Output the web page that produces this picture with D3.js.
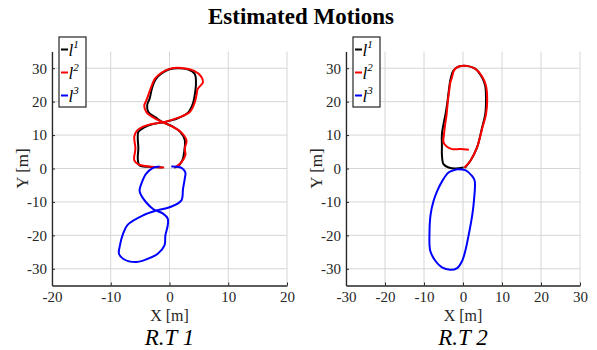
<!DOCTYPE html>
<html>
<head>
<meta charset="utf-8">
<script src="https://cdn.jsdelivr.net/npm/d3@7"></script>
<style>
  body { margin: 0; background: #fff; }
  svg text { font-family: "Liberation Serif", "Times New Roman", serif; }
</style>
</head>
<body>
<div id="vis"></div>
<script>
// trajectories, [x, y] in metres
var rt1L1 = [[-1.2,0.3],[-3.5,0.5],[-5.1,0.9],[-5.4,3],[-5.3,6],[-5.4,9],[-5.3,11],[-4.3,12.3],[-2.8,13.3],[-1.1,13.8],[1.4,15],[3.2,16.8],[4,19.5],[4.3,22],[4.5,25.3],[4.3,28.3],[3.2,29.6],[1.5,30],[0,29.7],[-1.3,28.5],[-2.3,26.8],[-2.9,24.5],[-3.4,20.8],[-3.8,19],[-3.6,16.9],[-2.3,15.2],[-1.1,13.8],[0.5,12.6],[1.9,10.8],[2.6,8.5],[2.5,5],[2.2,2.5],[1.4,0.6],[0.8,0.3]];
var rt1L2 = [[-0.9,0.3],[-3,0.5],[-5.3,1.2],[-6,2.5],[-5.8,6],[-6,9.5],[-5.6,11.2],[-4.5,12.5],[-3,13.3],[-1.1,13.8],[1.5,15.2],[3.5,17],[4.3,19.8],[4.6,22],[4.8,23.8],[5.7,25.8],[5.4,27.5],[4.2,29.2],[2,30.1],[0,29.8],[-1.5,28.5],[-2.5,26.8],[-3.2,24],[-3.9,20.5],[-4.3,18.8],[-3.9,16.8],[-2.5,15],[-1.1,13.8],[0.5,12.5],[2,10.8],[2.9,8.3],[2.6,6],[2.7,4],[2,1.8],[0.9,0.3]];
var rt1L3 = [[-1.7,0.6],[-2.8,0.2],[-4,-1.6],[-4.8,-4.6],[-5.1,-6.6],[-4.8,-8.1],[-4,-10.1],[-2.8,-12.1],[-2,-12.8],[-1.1,-13.5],[-0.3,-15],[-0.3,-17],[-0.7,-20],[-0.85,-23],[-2,-25.5],[-3.7,-27],[-5.7,-28],[-7.9,-27],[-8.6,-25.5],[-8.5,-23.5],[-7.9,-19.5],[-7.1,-16.8],[-4.5,-14],[-2.3,-12.6],[0,-11.6],[2,-9.6],[2.3,-6.1],[2.6,-3],[2.7,-1.2],[2.2,0],[1.4,0.5],[0.3,0.6]];

var rt2L1 = [[0.15,0.3],[-2,0],[-3.7,0.3],[-5,1.3],[-5.4,4],[-5.4,6.8],[-5.4,10.3],[-4.5,16.2],[-4.1,19],[-3.6,23.7],[-3.2,26.7],[-2.5,29.2],[-1.1,30.5],[1,30.7],[3.2,29.8],[4.9,27.2],[5.7,24.7],[5.9,20.7],[5.7,16.2],[4.9,12.3],[3.6,6.3],[1.9,2.3],[0.5,0.2]];
var rt2L2 = [[1.5,5.6],[-0.7,5.8],[-2.8,5.8],[-4.1,6.5],[-5,7.8],[-4.9,10],[-4.6,13],[-4.2,16.2],[-3.9,20],[-3.5,23.7],[-3.3,25.5],[-2.9,27],[-2.2,29.6],[-1.1,30.5],[1,30.7],[3.2,29.8],[4.9,27.5],[5.9,24.7],[6.2,20.7],[5.9,16.2],[5,12.3],[3.6,6.3],[1.9,2.3],[0.3,0.2]];
var rt2L3 = [[-1.5,-0.2],[0.6,-0.5],[2.3,-2.2],[3,-3.7],[2.8,-9.7],[2.4,-13.7],[1.5,-19.6],[0.6,-24.6],[-0.2,-27.6],[-1.5,-29.8],[-3.3,-30.3],[-5.4,-29.6],[-7.1,-27.6],[-8.4,-24.6],[-8.6,-19.6],[-8.3,-13.7],[-7.5,-9.5],[-6.6,-6.7],[-5.3,-3.7],[-3.7,-1.2],[-1.5,-0.2]];

var seriesNames = ["1", "2", "3"];
var seriesColors = ["#000000", "#ff0000", "#0000ff"];
var yTicks = [-30, -20, -10, 0, 10, 20, 30];
var xTicks1 = [-20, -10, 0, 10, 20];
var xTicks2 = [-30, -20, -10, 0, 10, 20, 30];

var serif = '"Liberation Serif", "Times New Roman", serif';
var width = 597, height = 350;
var svg = d3.select('#vis').append('svg')
  .attr('width', width)
  .attr('height', height);

svg.append('text')
  .attr('x', 301).attr('y', 24)
  .attr('text-anchor', 'middle')
  .style('font-family', serif)
  .style('font-size', '23px')
  .style('font-weight', 'bold')
  .text('Estimated Motions');

function drawPanel(opt) {
  var x = d3.scaleLinear().domain(opt.xDomain).range([opt.left, opt.right]);
  var y = d3.scaleLinear().domain([-35, 35]).range([285.5, 51.5]);
  var g = svg.append('g');

  // grid
  g.selectAll('.gx').data(opt.xTicks).enter().append('line')
    .attr('x1', function(d) { return x(d); }).attr('x2', function(d) { return x(d); })
    .attr('y1', y(35)).attr('y2', y(-35))
    .attr('stroke', '#d6d6d6').attr('stroke-width', 1);
  g.selectAll('.gy').data(yTicks).enter().append('line')
    .attr('x1', x(opt.xDomain[0])).attr('x2', x(opt.xDomain[1]))
    .attr('y1', function(d) { return y(d); }).attr('y2', function(d) { return y(d); })
    .attr('stroke', '#d6d6d6').attr('stroke-width', 1);

  var line = d3.line()
    .x(function(d) { return x(d[0]); })
    .y(function(d) { return y(d[1]); })
    .curve(d3.curveCatmullRom);

  opt.data.forEach(function(s, i) {
    g.append('path')
      .datum(s)
      .attr('fill', 'none')
      .attr('stroke', seriesColors[i])
      .attr('stroke-width', 2)
      .attr('stroke-linejoin', 'round')
      .attr('d', line);
  });

  // axes
  var fmt = function(d) { return String(d); };
  var xAxis = g.append('g')
    .attr('transform', 'translate(0,' + y(-35) + ')')
    .call(d3.axisBottom(x).tickValues(opt.xTicks).tickFormat(fmt).tickSizeInner(-3).tickSizeOuter(0).tickPadding(6));
  var yAxis = g.append('g')
    .attr('transform', 'translate(' + x(opt.xDomain[0]) + ',0)')
    .call(d3.axisLeft(y).tickValues(yTicks).tickFormat(fmt).tickSizeInner(-3).tickSizeOuter(0).tickPadding(5));
  [xAxis, yAxis].forEach(function(a) {
    a.attr('font-family', null);
    a.select('.domain').attr('stroke', '#262626').attr('stroke-width', 1.3);
    a.selectAll('.tick line').attr('stroke', '#262626');
    a.selectAll('.tick text')
      .attr('fill', '#262626')
      .style('font-family', serif)
      .style('font-size', '15px');
  });

  var cx = (opt.left + opt.right) / 2;
  g.append('text')
    .attr('x', cx).attr('y', 321)
    .attr('text-anchor', 'middle')
    .attr('fill', '#262626')
    .style('font-family', serif)
    .style('font-size', '16px')
    .text('X [m]');
  g.append('text')
    .attr('transform', 'translate(' + (opt.left - 24) + ',' + y(0) + ') rotate(-90)')
    .attr('text-anchor', 'middle')
    .attr('fill', '#262626')
    .style('font-family', serif)
    .style('font-size', '17px')
    .text('Y [m]');
  g.append('text')
    .attr('x', cx).attr('y', 345)
    .attr('text-anchor', 'middle')
    .style('font-family', serif)
    .style('font-size', '23px')
    .style('font-style', 'italic')
    .text(opt.caption);

  // legend
  var lg = g.append('g').attr('transform', 'translate(' + (opt.left + 7) + ',37)');
  lg.append('rect')
    .attr('width', 27).attr('height', 70)
    .attr('fill', '#fff')
    .attr('stroke', '#262626').attr('stroke-width', 1.2);
  seriesNames.forEach(function(n, i) {
    var ly = 12.5 + i * 23;
    lg.append('line')
      .attr('x1', 2).attr('x2', 9)
      .attr('y1', ly).attr('y2', ly)
      .attr('stroke', seriesColors[i]).attr('stroke-width', 2);
    var t = lg.append('text')
      .attr('x', 9.5).attr('y', ly + 6)
      .style('font-family', serif)
      .style('font-size', '17px')
      .style('font-style', 'italic')
      .attr('fill', '#000');
    t.append('tspan').text('l');
    t.append('tspan')
      .attr('dy', -8)
      .style('font-size', '11px')
      .text(n);
  });
}

drawPanel({ xDomain: [-20, 20], left: 52, right: 287, xTicks: xTicks1,
  data: [rt1L1, rt1L2, rt1L3], caption: 'R.T 1' });
drawPanel({ xDomain: [-30, 30], left: 346, right: 580, xTicks: xTicks2,
  data: [rt2L1, rt2L2, rt2L3], caption: 'R.T 2' });
</script>
</body>
</html>
